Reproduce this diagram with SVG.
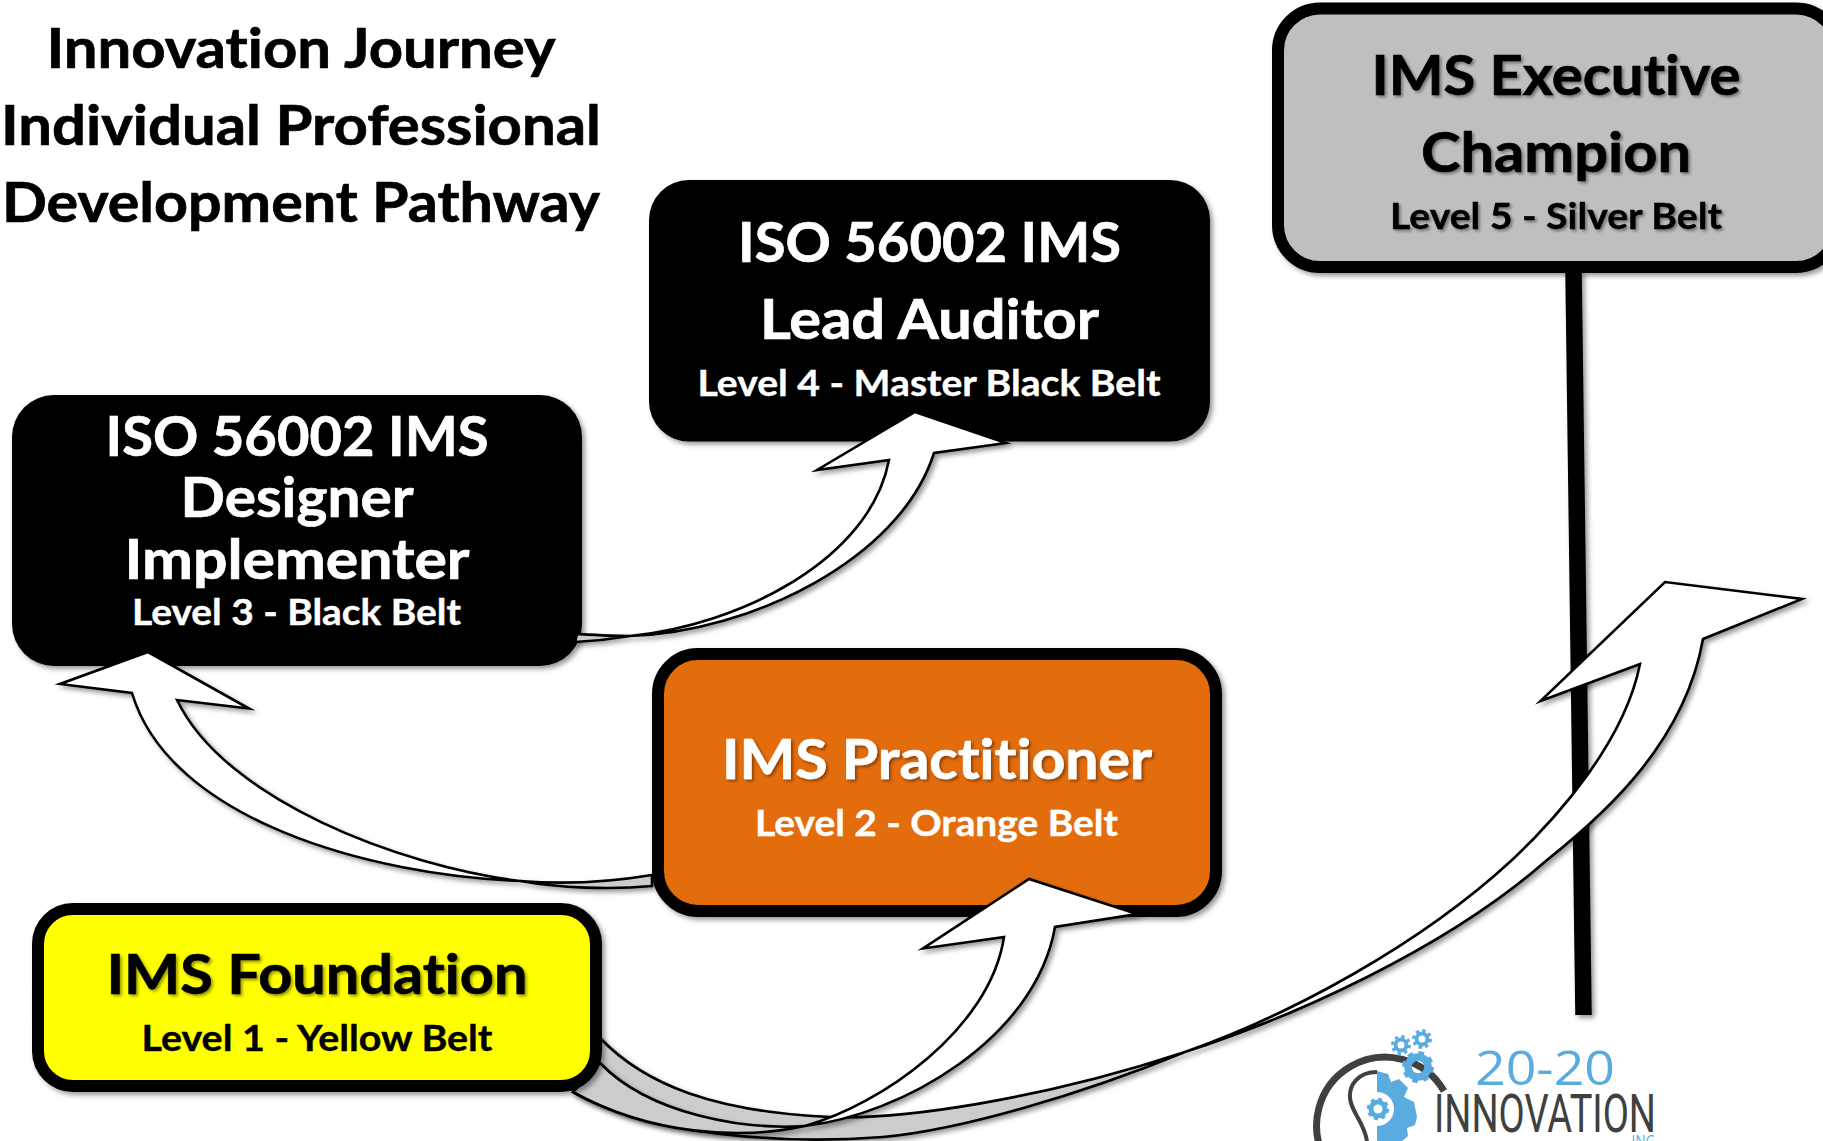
<svg xmlns="http://www.w3.org/2000/svg" width="1823" height="1141" viewBox="0 0 1823 1141">
<style>
text{font-family:Lato,"Liberation Sans",sans-serif;font-weight:700;text-anchor:middle;font-variant-ligatures:none}
.t{font-size:56px;stroke-width:.7px}
.s{font-size:36px;stroke-width:.4px}
.w{fill:#fff;stroke:#fff}
.k{fill:#000;stroke:#000}
.sh{filter:url(#ts)}
.arr{stroke:#000;stroke-width:2.6;stroke-linejoin:miter;stroke-miterlimit:6;filter:url(#ds)}
.head{fill:#fff}
.tail{fill:#ccc}
.box{filter:url(#ds)}
.lb{fill:#5aace0}
.lg{fill:none;stroke:#404040}
.gear{fill:none;stroke:#5aace0}
</style>
<defs>
<filter id="ds" filterUnits="userSpaceOnUse" x="0" y="0" width="1823" height="1141"><feDropShadow dx="3" dy="3" stdDeviation="2.5" flood-color="#000" flood-opacity=".4"/></filter>
<filter id="ts" filterUnits="userSpaceOnUse" x="0" y="0" width="1823" height="1141"><feDropShadow dx="2" dy="2" stdDeviation="1.5" flood-color="#000" flood-opacity=".4"/></filter>
</defs>
<rect width="1823" height="1141" fill="#fff"/>

<g id="title">
<text class="t k" x="301" y="68" textLength="509" lengthAdjust="spacingAndGlyphs">Innovation Journey</text>
<text class="t k" x="301" y="145" textLength="600" lengthAdjust="spacingAndGlyphs">Individual Professional</text>
<text class="t k" x="301" y="222" textLength="598" lengthAdjust="spacingAndGlyphs">Development Pathway</text>
</g>

<path id="stem" d="M1573.500,270L1583.500,1015" stroke="#000" stroke-width="16.500" fill="none" class="box"/>

<g id="level5">
<rect class="box" x="1278" y="8.500" width="560" height="258.500" rx="42" fill="#bfbfbf" stroke="#000" stroke-width="12"/>
<text class="t k sh" x="1556" y="95" textLength="369" lengthAdjust="spacingAndGlyphs">IMS Executive</text>
<text class="t k sh" x="1556" y="172" textLength="270" lengthAdjust="spacingAndGlyphs">Champion</text>
<text class="s k sh" x="1556" y="229" textLength="332" lengthAdjust="spacingAndGlyphs">Level 5 - Silver Belt</text>
</g>
<g id="level4">
<rect class="box" x="649" y="180" width="561" height="261.500" rx="40" fill="#000"/>
<text class="t w" x="929.500" y="262" textLength="383" lengthAdjust="spacingAndGlyphs">ISO 56002 IMS</text>
<text class="t w" x="929.500" y="339" textLength="339" lengthAdjust="spacingAndGlyphs">Lead Auditor</text>
<text class="s w" x="929" y="396" textLength="463" lengthAdjust="spacingAndGlyphs">Level 4 - Master Black Belt</text>
</g>
<g id="level3">
<rect class="box" x="12" y="395" width="570" height="271" rx="42" fill="#000"/>
<text class="t w" x="297" y="456" textLength="383" lengthAdjust="spacingAndGlyphs">ISO 56002 IMS</text>
<text class="t w" x="297" y="517" textLength="233" lengthAdjust="spacingAndGlyphs">Designer</text>
<text class="t w" x="297" y="579" textLength="345" lengthAdjust="spacingAndGlyphs">Implementer</text>
<text class="s w" x="296.500" y="625" textLength="329" lengthAdjust="spacingAndGlyphs">Level 3 - Black Belt</text>
</g>
<g id="level2">
<rect class="box" x="658" y="654" width="558" height="257" rx="40" fill="#e36c0a" stroke="#000" stroke-width="12"/>
<text class="t w sh" x="937" y="779" textLength="430" lengthAdjust="spacingAndGlyphs">IMS Practitioner</text>
<text class="s w" x="936.500" y="836" textLength="363" lengthAdjust="spacingAndGlyphs">Level 2 - Orange Belt</text>
</g>

<g id="connectors">
<g id="arrow-l3-l4">
<path class="arr tail" d="M577,634C595,635 612,636 630,636C612,639 595,641 575,642Z"/>
<path class="arr head" d="M630,636C740,625 870,560 889,460L817,470L915,412L1006,443L934,453C900,560 750,632 630,636Z"/>
</g>
<g id="arrow-l2-l3">
<path class="arr tail" d="M652,875C610,882 570,885 520,881C560,888 610,890 652,886Z"/>
<path class="arr head" d="M520,881C400,866 225,800 177,700L249,708.500L148,652L60,684L132,693C170,820 370,875 520,881Z"/>
</g>
<g id="arrow-l1-l5">
<path class="arr tail" d="M600,1038C645,1085 715,1112 830,1117C900,1120 1040,1100 1185,1052C1080,1095 960,1130 883,1137C780,1145 650,1135 573,1092Z"/>
<path class="arr head" d="M1185,1052C1290,1015 1420,945 1512,860C1560,815 1625,740 1640,664L1540.500,701L1665,582L1802,599L1703,639C1685,740 1610,810 1547,860C1445,950 1290,1018 1185,1052Z"/>
</g>
<g id="arrow-l1-l2">
<path class="arr tail" d="M573,1092C650,1135 740,1140 805,1126C745,1130 650,1115 600,1063Z"/>
<path class="arr head" d="M805,1126C880,1105 990,1030 1004,937L923,948.500L1029,879L1137,914L1055,927C1035,1040 900,1115 805,1126Z"/>
</g>
</g>

<g id="level1">
<rect class="box" x="38" y="909" width="558" height="177" rx="35" fill="#ff0" stroke="#000" stroke-width="12"/>
<text class="t k sh" x="317" y="994" textLength="421" lengthAdjust="spacingAndGlyphs">IMS Foundation</text>
<text class="s k" x="317" y="1050.500" textLength="351" lengthAdjust="spacingAndGlyphs">Level 1 - Yellow Belt</text>
</g>

<g id="logo">
<path class="lg" stroke-width="7" d="M1326,1160A67,67 0 1 1 1444,1091"/>
<path class="lb" d="M1377,1071L1388,1074L1391,1082L1399,1079L1408,1088L1404,1097L1414,1102L1417,1117L1415,1125L1407,1128L1408,1136L1402,1141L1377,1141Z"/>
<path class="lg" stroke-width="4" d="M1377,1072C1358,1072 1349,1085 1350,1098C1351,1112 1364,1122 1367,1141"/>
<circle cx="1377" cy="1109" r="17" fill="#fff"/>
<g id="gears">
<circle class="gear" cx="1378" cy="1109" r="7" stroke-width="5"/>
<circle class="gear" cx="1378" cy="1109" r="9.500" stroke-width="3.500" stroke-dasharray="3.700 3.750"/>
<circle class="gear" cx="1418" cy="1067" r="10" stroke-width="7.500"/>
<circle class="gear" cx="1418" cy="1067" r="14" stroke-width="4" stroke-dasharray="5.500 5.500"/>
<circle class="gear" cx="1401" cy="1045" r="5.500" stroke-width="4"/>
<circle class="gear" cx="1401" cy="1045" r="8.500" stroke-width="3" stroke-dasharray="3.340 3.340"/>
<circle class="gear" cx="1422" cy="1039" r="5.500" stroke-width="4"/>
<circle class="gear" cx="1422" cy="1039" r="8.500" stroke-width="3" stroke-dasharray="3.340 3.340"/>
</g>
<text class="lb" x="1545" y="1085" font-size="48" textLength="140" lengthAdjust="spacingAndGlyphs" style="font-family:'Open Sans',sans-serif;font-weight:400">20-20</text>
<text x="1545" y="1132" font-size="53" fill="#404040" textLength="222" lengthAdjust="spacingAndGlyphs" style="font-family:Roboto,sans-serif;font-weight:400">INNOVATION</text>
<text class="lb" x="1643" y="1147" font-size="16" textLength="23" lengthAdjust="spacingAndGlyphs" style="font-family:'Open Sans',sans-serif;font-weight:400">INC</text>
</g>
</svg>
